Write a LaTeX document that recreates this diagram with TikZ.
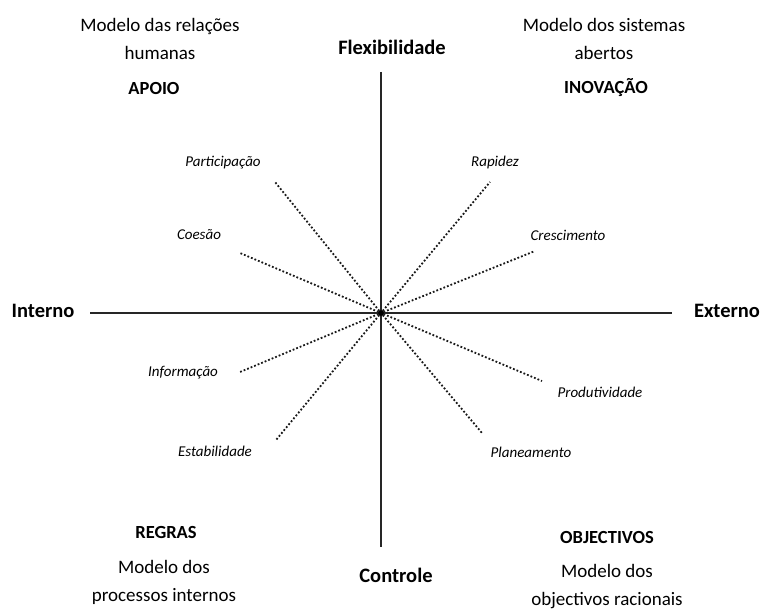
\documentclass[tikz,border=0pt]{standalone}
\usepackage{fontspec}
\setmainfont{Carlito}
\usepackage{tikz}
\usetikzlibrary{positioning}
\usetikzlibrary{calc}
\tikzstyle{axis} = [draw,line width=2.6pt,black!85]
\tikzstyle{ray} = [draw,dotted,line width=1.8pt,black!90]
\tikzstyle{axislabel} = [font=\fontsize{20.5}{24}\selectfont\bfseries,inner sep=0pt]
\tikzstyle{quadrant} = [font=\fontsize{18.5}{22}\selectfont\bfseries,inner sep=0pt]
\tikzstyle{model} = [font=\fontsize{19}{28}\selectfont,align=center,inner sep=0pt]
\tikzstyle{factor} = [font=\fontsize{15}{18}\selectfont\itshape,inner sep=0pt]
\tikzstyle{hub} = [circle,fill=black,draw,minimum size=5pt,inner sep=0pt]

\begin{document}
\begin{tikzpicture}[x=1pt,y=-1pt]
  \useasboundingbox (0,0) rectangle (764,610);

  % axes
  \node[hub] (c) at (381,313) {};
  \coordinate (top) at (381,72);
  \coordinate (bottom) at (381,547);
  \coordinate (left) at (90,313);
  \coordinate (right) at (672,313);

  \foreach \pos/\name/\label in {{(392,47)/flex/Flexibilidade}, {(396,575)/contr/Controle},
      {(43,311)/intern/Interno}, {(727,311)/extern/Externo}}
        \node[axislabel] (\name) at \pos {\label};

  \path[axis] (top) -- (bottom);
  \path[axis] (left) -- (right);

  % quadrants
  \foreach \pos/\name/\label in {{(154,88)/apoio/APOIO}, {(606,88)/inov/INOVAÇÃO},
      {(166,532)/regras/REGRAS}, {(607,537)/obj/OBJECTIVOS}}
        \node[quadrant] (\name) at \pos {\label};

  \foreach \pos/\name/\label in {{(160,39)/mrh/{Modelo das relações\\humanas}},
      {(604,39)/msa/{Modelo dos sistemas\\abertos}},
      {(164,582)/mpi/{Modelo dos\\processos internos}},
      {(607,587)/mor/{Modelo dos\\objectivos racionais}}}
        \node[model] (\name) at \pos {\label};

  % factors: ray ends
  \foreach \x/\y/\name in {275/182/par, 240/253/coe, 490/182/rap, 535/251/cre,
      240/372/inf, 276/440/est, 542/381/pro, 482/433/pla}
        \coordinate (end\name) at (\x,\y);

  \foreach \source/\dest in {c/endpar, c/endcoe, c/endrap, c/endcre,
      c/endinf, c/endest, c/endpro, c/endpla}
        \path[ray] (\source) -- (\dest);

  % factor labels
  \foreach \pos/\name/\label in {{(223,163)/par/Participação}, {(199,235)/coe/Coesão},
      {(495,163)/rap/Rapidez}, {(568,235)/cre/Crescimento},
      {(183,373)/inf/Informação}, {(215,451)/est/Estabilidade},
      {(600,392)/pro/Produtividade}, {(531,452)/pla/Planeamento}}
        \node[factor] (\name) at \pos {\label};

  \node[hub] at (c) {};
\end{tikzpicture}
\end{document}
